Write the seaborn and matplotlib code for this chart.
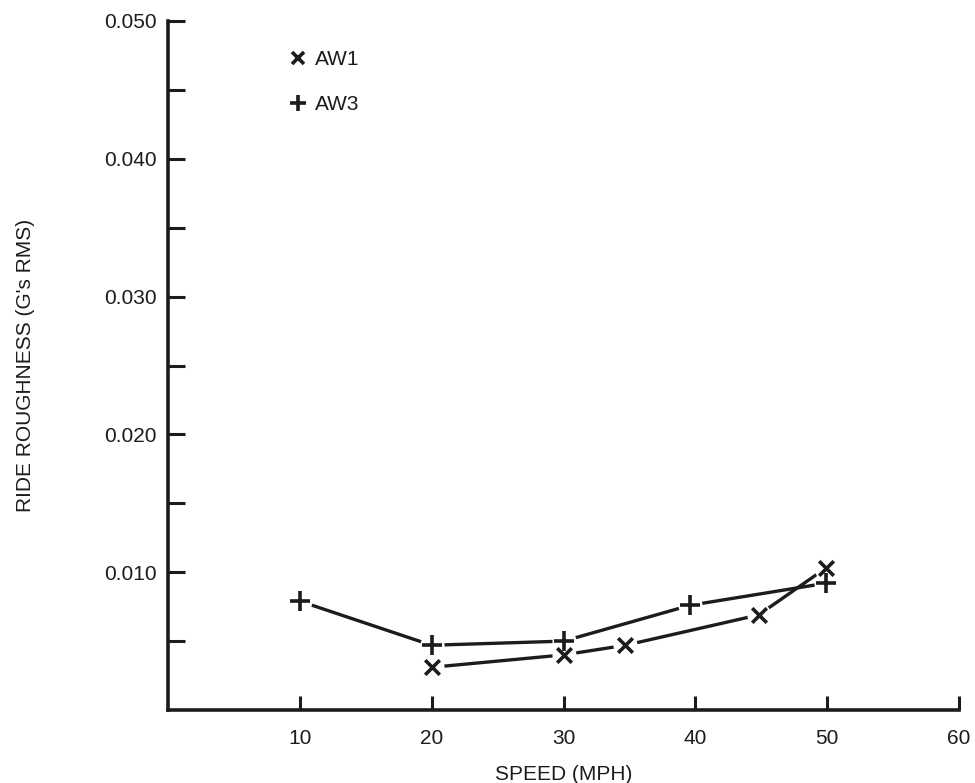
import pandas as pd
import numpy as np
import matplotlib
matplotlib.use("Agg")
import matplotlib.pyplot as plt
import seaborn as sns
from matplotlib.lines import Line2D

# 데이터
aw1_speed = [20, 30, 34.7, 44.8, 49.9]
aw1_rough = [0.0031, 0.0040, 0.0047, 0.0069, 0.0103]
aw3_speed = [10, 20, 30, 39.6, 49.9]
aw3_rough = [0.0079, 0.0047, 0.0050, 0.0076, 0.0092]

x_ticks = [10, 20, 30, 40, 50, 60]
y_major = [0.010, 0.020, 0.030, 0.040, 0.050]
y_minor = [0.005, 0.015, 0.025, 0.035, 0.045]

df1 = pd.DataFrame({"speed": aw1_speed, "rough": aw1_rough})
df3 = pd.DataFrame({"speed": aw3_speed, "rough": aw3_rough})

sns.set_style("white")
plt.rcParams['font.family'] = ['Liberation Sans', 'DejaVu Sans']
ink = '#1c1c1c'

fig = plt.figure(figsize=(9.75, 7.83), dpi=100)
ax = fig.add_axes([0.1723, 0.0932, 0.8113, 0.8800])

# 선
sns.lineplot(data=df1, x="speed", y="rough", ax=ax, color=ink, linewidth=2.4, zorder=2)
sns.lineplot(data=df3, x="speed", y="rough", ax=ax, color=ink, linewidth=2.4, zorder=2)

# 마커 주변의 작은 간격
for d in (df1, df3):
    sns.scatterplot(data=d, x="speed", y="rough", ax=ax, color='white', s=300,
                    marker='o', linewidth=0, zorder=3)

sns.scatterplot(data=df1, x="speed", y="rough", ax=ax, color=ink, marker='x',
                s=110, linewidth=2.6, zorder=4)
sns.scatterplot(data=df3, x="speed", y="rough", ax=ax, color=ink, marker='+',
                s=200, linewidth=2.6, zorder=4)

ax.set_xlim(0, 60)
ax.set_ylim(0, 0.050)

ax.set_xticks(x_ticks)
ax.set_xticklabels([str(v) for v in x_ticks], fontsize=15, color=ink)
ax.set_yticks(y_major)
ax.set_yticklabels([f"{v:.3f}" for v in y_major], fontsize=15, color=ink)
ax.set_yticks(y_minor, minor=True)

ax.tick_params(axis='x', which='major', direction='in', length=10, width=2.2,
               color=ink, pad=14, bottom=True)
ax.tick_params(axis='y', which='both', direction='in', length=12, width=2.2,
               color=ink, pad=8, left=True)

for s in ['top', 'right']:
    ax.spines[s].set_visible(False)
for s in ['left', 'bottom']:
    ax.spines[s].set_linewidth(2.6)
    ax.spines[s].set_color(ink)

ax.set_xlabel("SPEED (MPH)", fontsize=15, color=ink, labelpad=12)
ax.set_ylabel("RIDE ROUGHNESS (G's RMS)", fontsize=15, color=ink, labelpad=50)

handles = [
    Line2D([], [], linestyle='none', marker='x', color=ink, markersize=9, markeredgewidth=2.6),
    Line2D([], [], linestyle='none', marker='+', color=ink, markersize=12, markeredgewidth=2.6),
]
ax.legend(handles, ["AW1", "AW3"], loc='upper left', bbox_to_anchor=(0.13, 0.985),
          frameon=False, fontsize=15, handlelength=0.8, handletextpad=0.4,
          labelspacing=1.25, labelcolor=ink)

fig.savefig("out.png", dpi=100)
